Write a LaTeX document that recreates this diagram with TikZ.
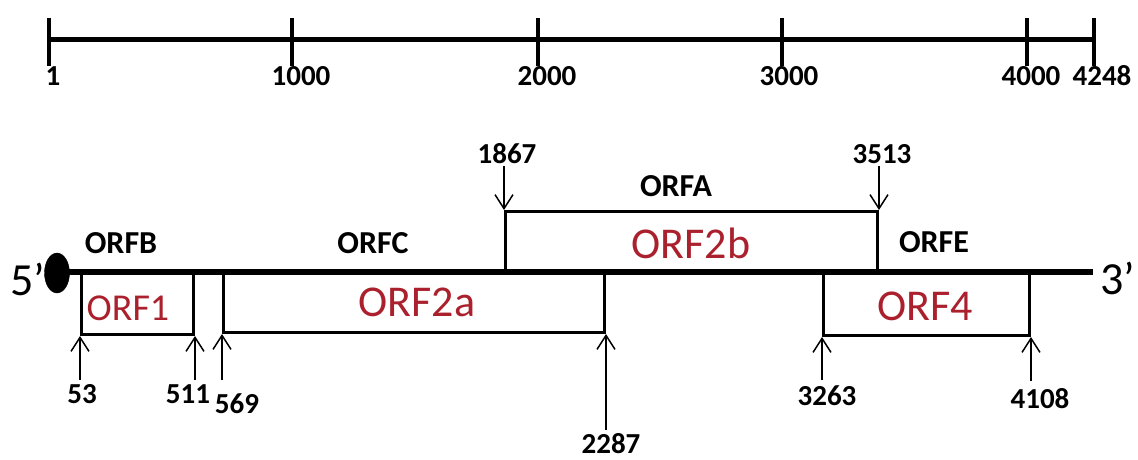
\documentclass[tikz,border=0pt]{standalone}
\usepackage{fontspec}
\setmainfont{Carlito}
\usetikzlibrary{arrows.meta,shapes.geometric}
\definecolor{orfred}{RGB}{170,32,45}
\begin{document}
\begin{tikzpicture}[x=1pt,y=-1pt,
  num/.style={font=\fontsize{29}{29}\selectfont\bfseries, inner sep=0pt},
  orflab/.style={font=\fontsize{32}{32}\selectfont\bfseries, inner sep=0pt},
  orfname/.style={font=\fontsize{44}{44}\selectfont, text=orfred, inner sep=0pt},
  orfbox/.style={draw, line width=3pt, inner sep=0pt, anchor=north west},
  endlab/.style={font=\fontsize{46}{46}\selectfont, inner sep=0pt},
  posarrow/.style={line width=1.5pt, -{Straight Barb[length=14pt,width=18pt,line width=1.5pt]}},
  bar/.style={line width=5pt},
  tickline/.style={line width=4pt}]
\useasboundingbox (0,0) rectangle (1138,460);

% scale bar
\coordinate (t1) at (49,40);
\coordinate (t1000) at (292,40);
\coordinate (t2000) at (538,40);
\coordinate (t3000) at (782,40);
\coordinate (t4000) at (1027,40);
\coordinate (t4248) at (1094,40);
\draw[bar] (t1) -- (t4248);
\foreach \t in {t1,t1000,t2000,t3000,t4000,t4248}
  \draw[tickline] ([yshift=-26pt]\t) -- ([yshift=22pt]\t);
\node[num] (s1) at (53,76) {1};
\node[num] (s1000) at (301,76) {1000};
\node[num] (s2000) at (547,76) {2000};
\node[num] (s3000) at (789,76) {3000};
\node[num] (s4000) at (1031,76) {4000};
\node[num] (s4248) at (1102,76) {4248};

% ORF boxes
\node[orfbox, minimum width=112pt, minimum height=62pt] (orf1) at (80,271) {};
\node[orfname, font=\fontsize{38}{38}\selectfont] (orf1t) at (128,308) {ORF1};
\node[orfbox, minimum width=381pt, minimum height=60pt] (orf2a) at (222,271) {};
\node[orfname] (orf2at) at (417,302) {ORF2a};
\node[orfbox, minimum width=372pt, minimum height=61pt] (orf2b) at (504,210) {};
\node[orfname] (orf2bt) at (691,243) {ORF2b};
\node[orfbox, minimum width=206pt, minimum height=63pt] (orf4) at (822,271) {};
\node[orfname] (orf4t) at (925,306) {ORF4};

% genome line
\coordinate (gstart) at (60,272);
\coordinate (gend) at (1093,272);
\draw[line width=5.5pt] (gstart) -- (gend);
\node[draw, fill=black, ellipse, minimum width=25pt, minimum height=40pt, inner sep=0pt] (cap) at (57,273) {};
\node[endlab] (five) at (28,279) {5’};
\node[endlab] (three) at (1118,278) {3’};

% region labels
\node[orflab] (orfb) at (121,243) {ORFB};
\node[orflab] (orfc) at (373,243) {ORFC};
\node[orflab] (orfa) at (676,186) {ORFA};
\node[orflab] (orfe) at (934,242) {ORFE};

% position labels
\node[num] (p53) at (82,394) {53};
\node[num] (p511) at (188,394) {511};
\node[num] (p569) at (237,404) {569};
\node[num] (p2287) at (611,444) {2287};
\node[num] (p3263) at (827,396) {3263};
\node[num] (p4108) at (1040,399) {4108};
\node[num] (p1867) at (507,154) {1867};
\node[num] (p3513) at (882,154) {3513};

% position arrows
\draw[posarrow] (orf1.south west |- p53.north) ++(0,-4) -- (orf1.south west);
\draw[posarrow] (orf1.south east |- p511.north) ++(0,-4) -- (orf1.south east);
\draw[posarrow] (orf2a.south west |- p569.north) ++(0,-14) -- (orf2a.south west);
\draw[posarrow] (orf2a.south east |- p2287.north) ++(0,-4) -- (orf2a.south east);
\draw[posarrow] (orf4.south west |- p3263.north) ++(0,-6) -- (orf4.south west);
\draw[posarrow] (orf4.south east |- p4108.north) ++(0,-8) -- (orf4.south east);
\draw[posarrow] (orf2b.north west |- p1867.south) ++(0,2) -- (orf2b.north west);
\draw[posarrow] (orf2b.north east |- p3513.south) ++(0,2) -- (orf2b.north east);
\end{tikzpicture}
\end{document}
